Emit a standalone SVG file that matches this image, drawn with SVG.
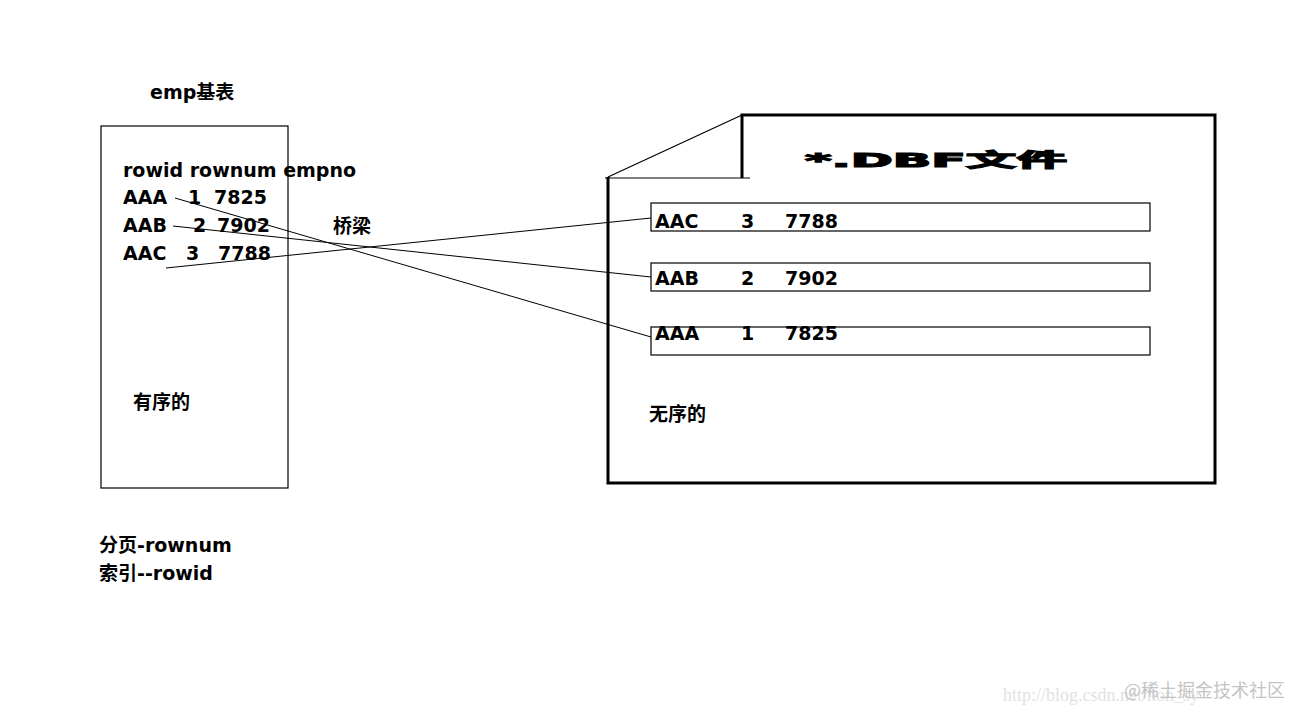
<svg xmlns="http://www.w3.org/2000/svg" width="1304" height="720" viewBox="0 0 1304 720">
<style>
.t{font-family:"DejaVu Sans","Noto Sans CJK SC",sans-serif;font-weight:bold;font-size:19px;fill:#000}
.thin{fill:none;stroke:#000;stroke-width:1.2}
.thick{fill:none;stroke:#000;stroke-width:3}
.ln{stroke:#000;stroke-width:1;fill:none}
.wm{font-family:"Noto Sans CJK SC",sans-serif;font-size:18px;fill:#c4c4c4}
.wm2{font-family:"Liberation Serif",serif;font-size:18px;fill:#e2e2e2}
</style>
<rect width="1304" height="720" fill="#fff"/>
<g id="emp-title"><text class="t" x="150" y="99" font-size="18">emp基表</text></g>
<g id="emp-table">
<rect class="thin" x="101" y="126" width="187" height="362"/>
<text class="t" x="123" y="177" font-size="19.3">rowid rownum empno</text>
<text class="t" y="204"><tspan x="123">AAA</tspan><tspan x="188">1</tspan><tspan x="214">7825</tspan></text>
<text class="t" y="232"><tspan x="123">AAB</tspan><tspan x="193">2</tspan><tspan x="217">7902</tspan></text>
<text class="t" y="260"><tspan x="123">AAC</tspan><tspan x="186">3</tspan><tspan x="218">7788</tspan></text>
<text class="t" x="133" y="409" font-size="20">有序的</text>
</g>
<g id="bridge"><text class="t" x="333" y="233" font-size="20">桥梁</text></g>
<g id="dbf-file">
<path class="thick" d="M608,177 V483 H1215 V115 H742 V178"/>
<path class="thin" d="M608,177 L742,115 M605,178 H750"/>
<text class="t" x="805" y="167" font-size="32" stroke="#000" stroke-width="1.2" textLength="262" lengthAdjust="spacingAndGlyphs">*.DBF文件</text>
<text class="t" x="649" y="421" font-size="20">无序的</text>
</g>
<g id="row-aac">
<rect class="thin" x="651" y="203" width="499" height="28"/>
<text class="t" y="228"><tspan x="655">AAC</tspan><tspan x="741">3</tspan><tspan x="785">7788</tspan></text>
</g>
<g id="row-aab">
<rect class="thin" x="651" y="263" width="499" height="28"/>
<text class="t" y="285"><tspan x="655">AAB</tspan><tspan x="741">2</tspan><tspan x="785">7902</tspan></text>
</g>
<g id="row-aaa">
<rect class="thin" x="651" y="327" width="499" height="28"/>
<text class="t" y="340"><tspan x="655">AAA</tspan><tspan x="741">1</tspan><tspan x="785">7825</tspan></text>
</g>
<g id="connectors">
<line class="ln" x1="175" y1="198" x2="651" y2="337"/>
<line class="ln" x1="173" y1="226" x2="651" y2="277"/>
<line class="ln" x1="166" y1="268" x2="651" y2="218"/>
</g>
<g id="notes">
<text class="t" x="99" y="552" font-size="19.5">分页-rownum</text>
<text class="t" x="99" y="580" font-size="19.5">索引--rowid</text>
</g>
<g id="watermark">
<text class="wm2" x="1003" y="701">http://blog.csdn.net/hon_sy</text>
<text class="wm" x="1124" y="697">@稀土掘金技术社区</text>
</g>
</svg>
